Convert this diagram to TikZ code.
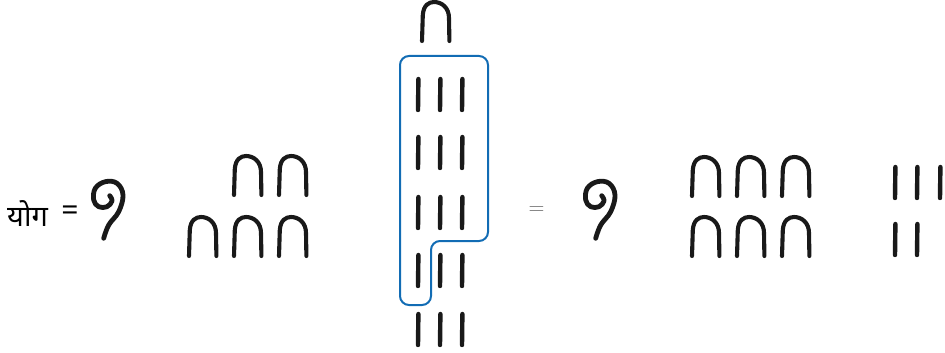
\documentclass[tikz,border=0pt]{standalone}
\usepackage{fontspec}
\newfontfamily\deva[Script=Devanagari]{Noto Sans}
\definecolor{outlineblue}{RGB}{18,108,180}
\definecolor{glyphink}{RGB}{25,25,25}
\tikzset{
  glyphline/.style={draw=glyphink, line width=4.1pt, line cap=round, line join=round},
  % hieroglyph for ten: a heel-bone arch, origin at the foot of the left leg
  tenpic/.pic={
    \draw[glyphline] (0,0) -- (0.8,-26) .. controls (1.5,-36) and (7,-39) .. (12,-39)
      .. controls (20,-39) and (27,-33) .. (27,-23) -- (27.4,0);
  },
  % hieroglyph for one: a single vertical stroke, origin at its foot
  onepic/.pic={
    \draw[glyphline, line width=4.4pt] (0,0) -- (0.4,-31);
  },
  % hieroglyph for a hundred: a coil of rope
  hundredpic/.pic={
    \draw[glyphline, line width=4.8pt] plot[smooth, tension=0.65] coordinates {
      (19.7,20.7) (22,26) (17,31.7) (8.7,31.7) (3.7,25) (5.3,13.3)
      (15.3,6.7) (27,8.3) (33,20) (28.7,36.7) (18.7,50) (13.7,63.3)};
  },
  boxline/.style={draw=outlineblue, line width=2pt, rounded corners=9pt},
}
\begin{document}
\begin{tikzpicture}[x=1pt,y=-1pt]
\useasboundingbox (0,0) rectangle (945,353);

% left-hand side: the sum
\node[anchor=west, inner sep=0pt, font=\deva\fontsize{29}{34}\selectfont] (label) at (7,214) {योग};
\node[inner sep=0pt, font=\deva\fontsize{30}{34}\selectfont] (eqleft) at (70,213) {=};
\pic at (90,175) {hundredpic};
\foreach \x in {234,279} \pic at (\x,195) {tenpic};
\foreach \x in {189,234,279} \pic at (\x,256) {tenpic};

% middle column: carrying ten ones into a ten
\pic at (422,41) {tenpic};
\foreach \y in {110,168,228,286,345}
  \foreach \x in {418,440,462} \pic at (\x,\y) {onepic};
\draw[boxline] (400,150) -- (400,56) -- (488,56) -- (488,241) -- (431,241)
  -- (431,305) -- (400,305) -- cycle;

% right-hand side: the result
\node[inner sep=0pt, text=black!60, font=\fontsize{22}{26}\selectfont] (eq) at (536.5,211) {=};
\pic at (582,175) {hundredpic};
\foreach \x in {692,737,782} {
  \pic at (\x,196) {tenpic};
  \pic at (\x,256) {tenpic};
}
\foreach \x in {895,917,940} \pic at (\x,198) {onepic};
\foreach \x in {895,917} \pic at (\x,255) {onepic};
\end{tikzpicture}
\end{document}
